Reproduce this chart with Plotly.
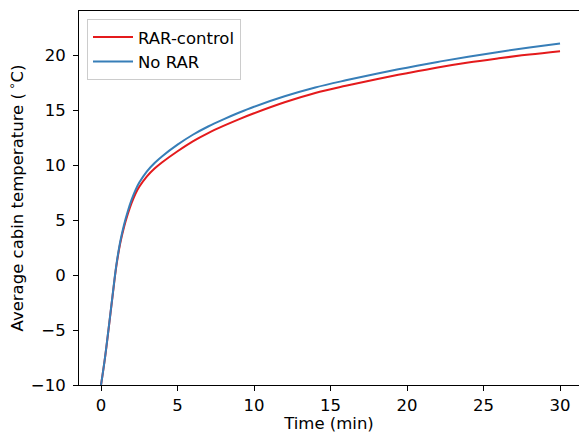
import plotly.graph_objects as go

time_min = [0, 0.25, 0.5, 0.75, 1.0, 1.25, 1.5, 1.75, 2.0, 2.25, 2.5, 3.0, 3.5, 4.0,
            5, 6, 7, 8, 9, 10, 12, 14, 16, 18, 20, 22, 24, 26, 28, 30]
no_rar = [-10, -7.6, -4.8, -1.9, 0.9, 3.0, 4.55, 5.8, 6.85, 7.72, 8.4, 9.42, 10.18, 10.8,
          11.85, 12.75, 13.5, 14.15, 14.75, 15.3, 16.25, 17.05, 17.7, 18.3, 18.85, 19.37,
          19.85, 20.28, 20.68, 21.05]
rar_control = [-10, -7.62, -4.85, -1.96, 0.8, 2.85, 4.35, 5.55, 6.55, 7.39, 8.02, 8.97, 9.68,
               10.25, 11.25, 12.15, 12.9, 13.55, 14.15, 14.7, 15.7, 16.55, 17.2, 17.8,
               18.35, 18.87, 19.32, 19.7, 20.05, 20.35]
x_ticks = [0, 5, 10, 15, 20, 25, 30]
y_ticks = [-10, -5, 0, 5, 10, 15, 20]

font = "DejaVu Sans, sans-serif"
fs = 16.5
fig = go.Figure()
fig.add_trace(go.Scatter(x=time_min, y=rar_control, mode="lines", name="RAR-control",
                         line=dict(color="#e41a1c", width=2, shape="spline", smoothing=1.0)))
fig.add_trace(go.Scatter(x=time_min, y=no_rar, mode="lines", name="No RAR",
                         line=dict(color="#377eb8", width=2, shape="spline", smoothing=1.0)))

fig.update_layout(
    width=579, height=433,
    margin=dict(l=79, r=0, t=11, b=48),
    paper_bgcolor="white", plot_bgcolor="white",
    font=dict(family=font, size=fs, color="black"),
    showlegend=True,
    legend=dict(x=0.016, y=0.979, xanchor="left", yanchor="top",
                bordercolor="#cccccc", borderwidth=1, bgcolor="rgba(255,255,255,0.8)",
                font=dict(family=font, size=fs), tracegroupgap=0, itemwidth=40),
    xaxis=dict(range=[-1.44, 31.24], tickvals=x_ticks, ticks="outside", ticklen=5,
               tickcolor="black", showline=True, linecolor="black", linewidth=1,
               mirror=True, showgrid=False, zeroline=False,
               tickfont=dict(family=font, size=fs),
               title=dict(text="Time (min)", standoff=1, font=dict(family=font, size=fs))),
    yaxis=dict(range=[-10, 24], tickvals=y_ticks, ticks="outside", ticklen=5,
               tickcolor="black", showline=True, linecolor="black", linewidth=1,
               showgrid=False, zeroline=False, ticklabelstandoff=4,
               tickfont=dict(family=font, size=fs),
               title=dict(text="Average cabin temperature (\u2009<sup>\u2218</sup>C)", standoff=3,
                          font=dict(family=font, size=fs))),
)
fig.write_html("out.html")
